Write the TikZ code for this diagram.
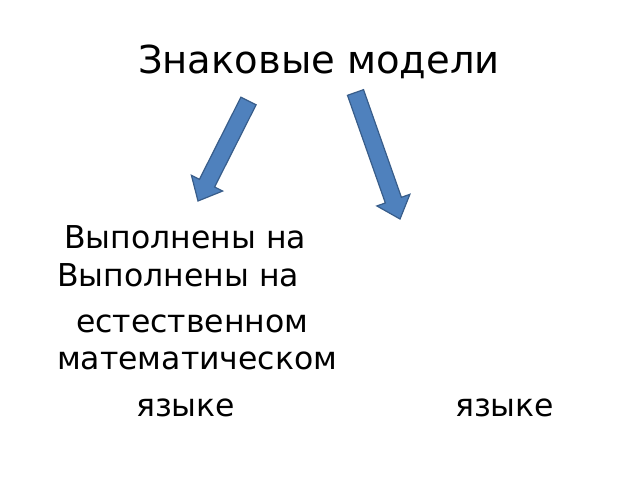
\documentclass[tikz,border=0pt]{standalone}
\usepackage{fontspec}
\setmainfont{DejaVu Sans}
\usetikzlibrary{calc}

\definecolor{arrowfill}{HTML}{4F81BD}
\definecolor{arrowline}{HTML}{385D8A}

\tikzset{
  textline/.style={anchor=base west, inner sep=0pt, font=\fontsize{31.5}{31.5}\selectfont},
  titletext/.style={anchor=base, inner sep=0pt, font=\fontsize{38.5}{38.5}\selectfont},
  blockarrow/.style={fill=arrowfill, draw=arrowline, line width=1.2pt, line join=miter}
}

% block arrow from #1 (tail centre) to #2 (tip)
\newcommand{\blockarr}[2]{
  \draw[blockarrow]
    ($(#1)!8.5pt!90:(#2)$) --
    ($($(#2)!20pt!(#1)$)!8.5pt!90:(#2)$) --
    ($($(#2)!20pt!(#1)$)!17.5pt!90:(#2)$) --
    (#2) --
    ($($(#2)!20pt!(#1)$)!17.5pt!-90:(#2)$) --
    ($($(#2)!20pt!(#1)$)!8.5pt!-90:(#2)$) --
    ($(#1)!8.5pt!-90:(#2)$) -- cycle;
}

\begin{document}
\begin{tikzpicture}[x=1pt, y=-1pt]
  \useasboundingbox (0, 0) rectangle (640, 480);

  \node[titletext] (title) at (319, 73) {Знаковые модели};

  \coordinate (lefttail) at (248.5, 101);
  \coordinate (lefttip) at (198, 201);
  \coordinate (righttail) at (355.5, 92.5);
  \coordinate (righttip) at (400, 219);
  \blockarr{lefttail}{lefttip}
  \blockarr{righttail}{righttip}

  \node[textline] (natA) at (64, 248) {Выполнены на};
  \node[textline] (mathA) at (57, 286) {Выполнены на};
  \node[textline] (natB) at (76, 332) {естественном};
  \node[textline] (mathB) at (57, 369) {математическом};
  \node[textline] (natC) at (136, 416) {языке};
  \node[textline] (mathC) at (455, 416) {языке};
\end{tikzpicture}
\end{document}
